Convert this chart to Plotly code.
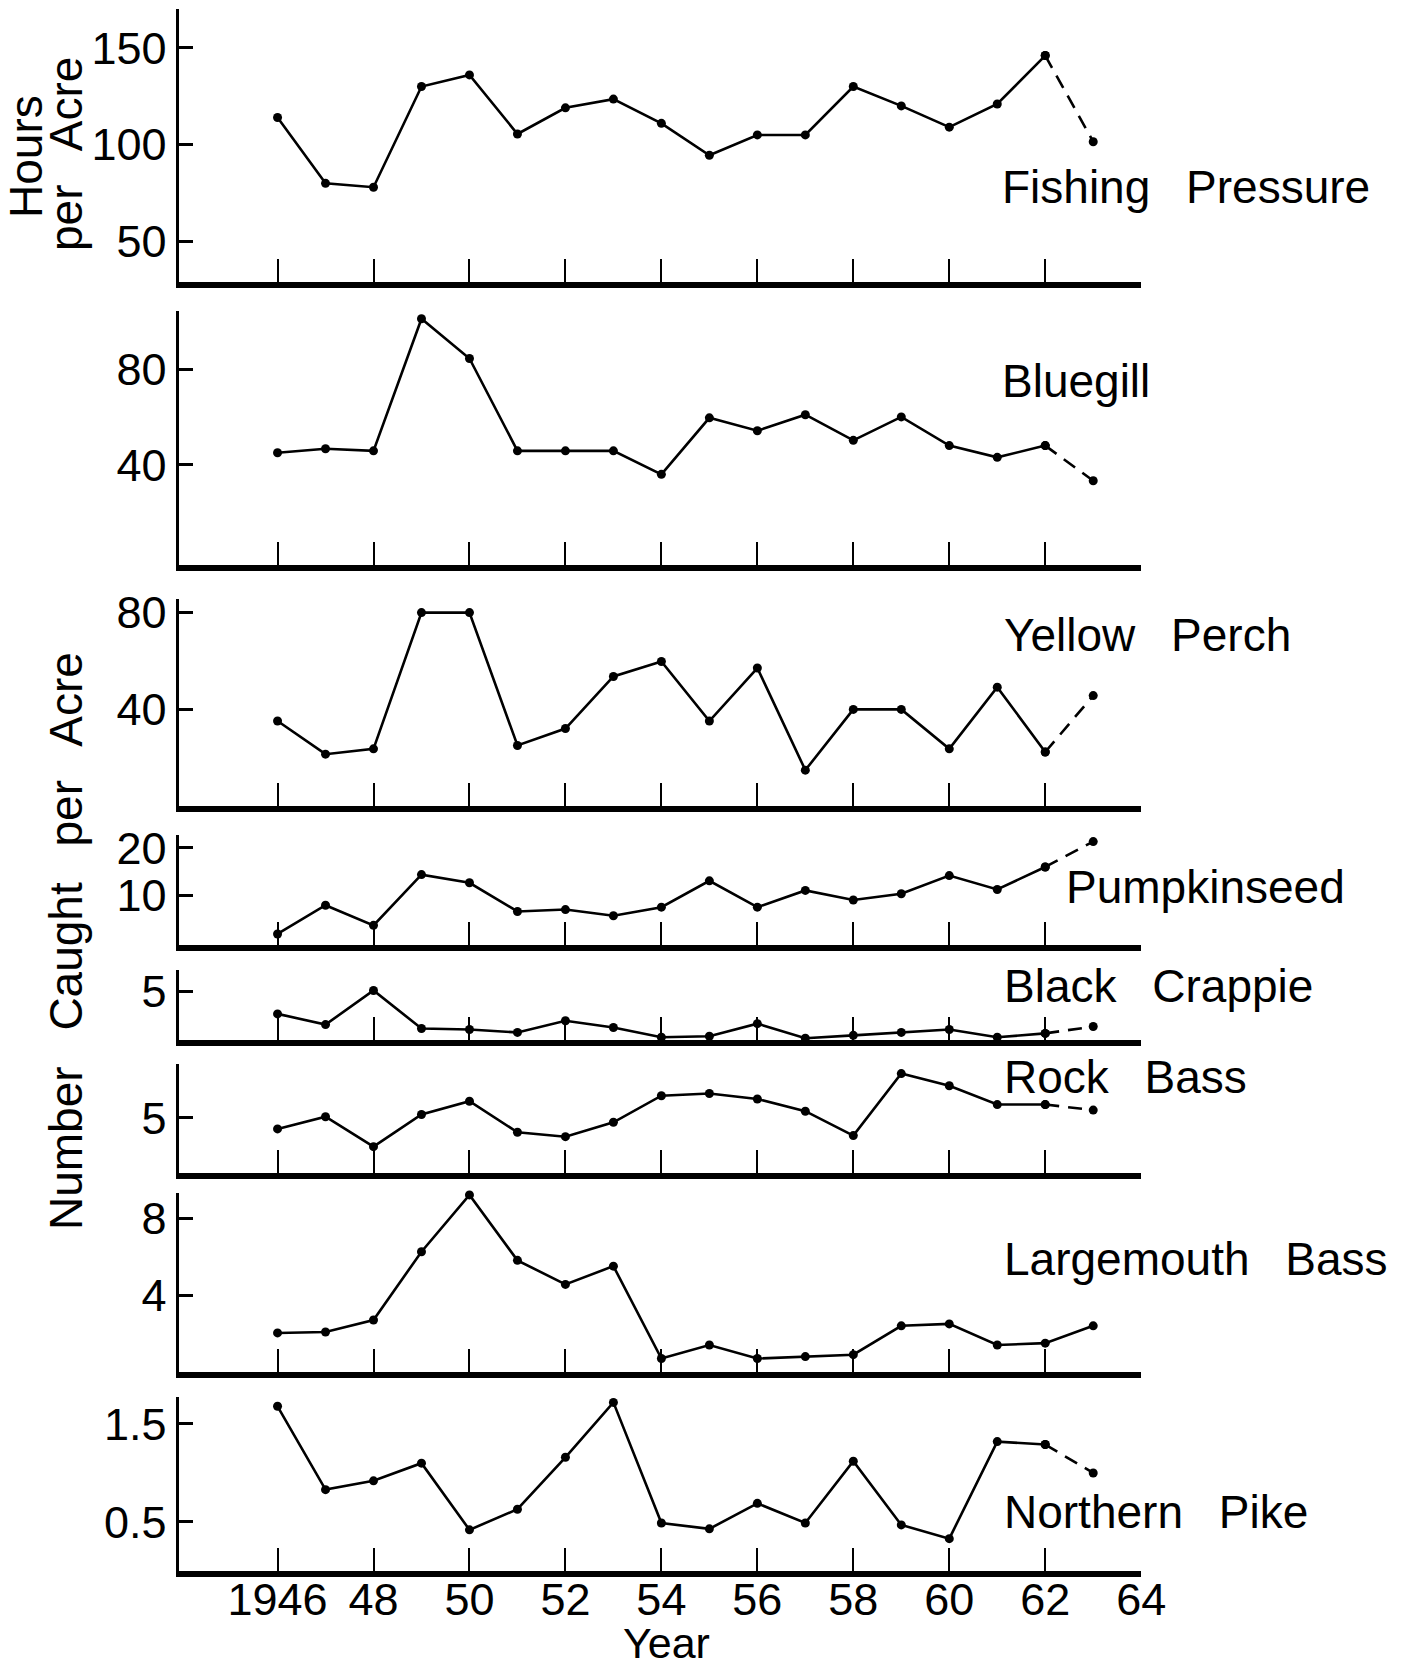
import plotly.graph_objects as go

# ---------------- data ----------------
years = list(range(1946, 1964))

fishing_pressure = [114, 80, 78, 130, 136, 105.5, 119, 123.5, 111, 94.5, 105, 105, 130, 120, 109, 121, 146, 101.5]
bluegill = [45, 46.7, 45.8, 101, 84.4, 45.8, 45.8, 45.8, 36, 59.6, 54.2, 60.9, 50.2, 60, 48, 43.1, 48, 33.3]
yellow_perch = [35.2, 21.5, 23.7, 80, 80, 25.1, 32.1, 53.6, 59.8, 35.2, 57.1, 14.9, 40, 40, 23.7, 49.2, 22.4, 45.7]
pumpkinseed = [2, 8, 3.8, 14.4, 12.7, 6.7, 7.1, 5.8, 7.6, 13.1, 7.6, 11.1, 9.1, 10.4, 14.2, 11.3, 16, 21.3]
black_crappie = [2.7, 1.6, 5.1, 1.2, 1.1, 0.8, 2.0, 1.3, 0.3, 0.4, 1.7, 0.2, 0.5, 0.8, 1.1, 0.3, 0.7, 1.4]
rock_bass = [4.0, 5.1, 2.4, 5.3, 6.5, 3.7, 3.3, 4.6, 7.0, 7.2, 6.7, 5.6, 3.4, 9.0, 7.9, 6.2, 6.2, 5.7]
largemouth_bass = [2.03, 2.08, 2.7, 6.25, 9.2, 5.8, 4.55, 5.5, 0.7, 1.4, 0.7, 0.8, 0.9, 2.4, 2.5, 1.4, 1.5, 2.4]
northern_pike = [1.68, 0.83, 0.92, 1.1, 0.42, 0.63, 1.16, 1.72, 0.49, 0.43, 0.69, 0.49, 1.12, 0.47, 0.33, 1.32, 1.29, 1.0]

series_names = ["Fishing\u2002 Pressure", "Bluegill", "Yellow\u2002 Perch", "Pumpkinseed",
                "Black\u2002 Crappie", "Rock\u2002 Bass", "Largemouth\u2002 Bass", "Northern\u2002 Pike"]
series_values = [fishing_pressure, bluegill, yellow_perch, pumpkinseed,
                 black_crappie, rock_bass, largemouth_bass, northern_pike]
last_dashed = [True, True, True, True, True, True, False, True]

y_tickvals = [[50, 100, 150], [40, 80], [40, 80], [10, 20], [5], [5], [4, 8], [0.5, 1.5]]
y_ticktext = [["50", "100", "150"], ["40", "80"], ["40", "80"], ["10", "20"], ["5"], ["5"], ["4", "8"], ["0.5", "1.5"]]
y_ranges = [[29.1, 170.3], [-1.8, 104.4], [0, 85.7], [-0.2, 22.7], [0, 7.2], [0, 9.9], [0, 9.3], [0, 1.78]]

x_tickvals = list(range(1946, 1966, 2))
x_ticktext = ["1946", "48", "50", "52", "54", "56", "58", "60", "62", "64"]

# ---------------- layout geometry (pixels) ----------------
W, H = 1422, 1668
x_left_px, x_right_px = 178.7, 1141.2
panel_px = [(8.5, 281.9), (310.6, 564.8), (598.8, 806.2), (834.9, 944.5),
            (970.0, 1040.2), (1063.6, 1173.2), (1193.0, 1372.0), (1396.5, 1571.0)]
label_px = [(999.8, 187), (999.8, 381), (1002, 635), (1063.6, 887),
            (1002, 986), (1002, 1077), (1002, 1259), (1002, 1512)]

FONT = "Liberation Sans, Arial, Helvetica, sans-serif"
x_range = [1943.94, 1964]

fig = go.Figure()
layout = dict(
    width=W, height=H,
    margin=dict(l=0, r=0, t=0, b=0, autoexpand=False),
    paper_bgcolor="white", plot_bgcolor="white",
    showlegend=False,
    font=dict(family=FONT, color="black", size=46),
)
annotations = []

n = len(series_values)
for i in range(n):
    k = i + 1
    xa = "x" if k == 1 else f"x{k}"
    ya = "y" if k == 1 else f"y{k}"
    vals = series_values[i]
    if last_dashed[i]:
        xs_solid, ys_solid = years[:-1], vals[:-1]
    else:
        xs_solid, ys_solid = years, vals
    fig.add_trace(go.Scatter(
        x=xs_solid, y=ys_solid, mode="lines+markers", xaxis=xa, yaxis=ya,
        line=dict(color="black", width=2.6),
        marker=dict(color="black", size=9),
        cliponaxis=False, hoverinfo="skip"))
    if last_dashed[i]:
        fig.add_trace(go.Scatter(
            x=years[-2:], y=vals[-2:], mode="lines+markers", xaxis=xa, yaxis=ya,
            line=dict(color="black", width=2.6, dash="14px,9px"),
            marker=dict(color="black", size=9),
            cliponaxis=False, hoverinfo="skip"))

    top, bot = panel_px[i]
    xkey = "xaxis" if k == 1 else f"xaxis{k}"
    ykey = "yaxis" if k == 1 else f"yaxis{k}"
    layout[xkey] = dict(
        domain=[x_left_px / W, x_right_px / W], range=x_range, anchor=ya,
        showline=True, linewidth=6, linecolor="black",
        ticks="inside", ticklen=23, tickwidth=2.2, tickcolor="black",
        tickvals=x_tickvals, ticktext=x_ticktext,
        showticklabels=(k == n), tickfont=dict(size=45, family=FONT),
        ticklabelstandoff=-16, automargin=False,
        showgrid=False, zeroline=False, fixedrange=True,
    )
    layout[ykey] = dict(
        domain=[1 - bot / H, 1 - top / H], range=y_ranges[i], anchor=xa,
        showline=True, linewidth=3.2, linecolor="black",
        ticks="inside", ticklen=14, tickwidth=3, tickcolor="black",
        tickvals=y_tickvals[i], ticktext=y_ticktext[i],
        tickfont=dict(size=45, family=FONT), automargin=False,
        showgrid=False, zeroline=False, fixedrange=True,
    )
    lx, ly = label_px[i]
    annotations.append(dict(
        text=series_names[i], xref="paper", yref="paper",
        x=lx / W, y=1 - ly / H, xanchor="left", yanchor="middle",
        showarrow=False, font=dict(size=46, family=FONT)))

# axis titles
annotations += [
    dict(text="Hours", xref="paper", yref="paper", x=26 / W, y=1 - 157 / H,
         xanchor="center", yanchor="middle", textangle=-90, showarrow=False,
         font=dict(size=46, family=FONT)),
    dict(text="per\u2002 Acre", xref="paper", yref="paper", x=66 / W, y=1 - 154 / H,
         xanchor="center", yanchor="middle", textangle=-90, showarrow=False,
         font=dict(size=46, family=FONT)),
    dict(text="Number\u2002 Caught\u2002 per\u2002 Acre", xref="paper", yref="paper",
         x=66 / W, y=1 - 941 / H, xanchor="center", yanchor="middle", textangle=-90,
         showarrow=False, font=dict(size=46, family=FONT)),
    dict(text="Year", xref="paper", yref="paper", x=666 / W, y=0,
         xanchor="center", yanchor="bottom", showarrow=False, borderpad=0,
         font=dict(size=43, family=FONT)),
]
layout["annotations"] = annotations

fig.update_layout(**layout)
fig.write_html("out.html")
